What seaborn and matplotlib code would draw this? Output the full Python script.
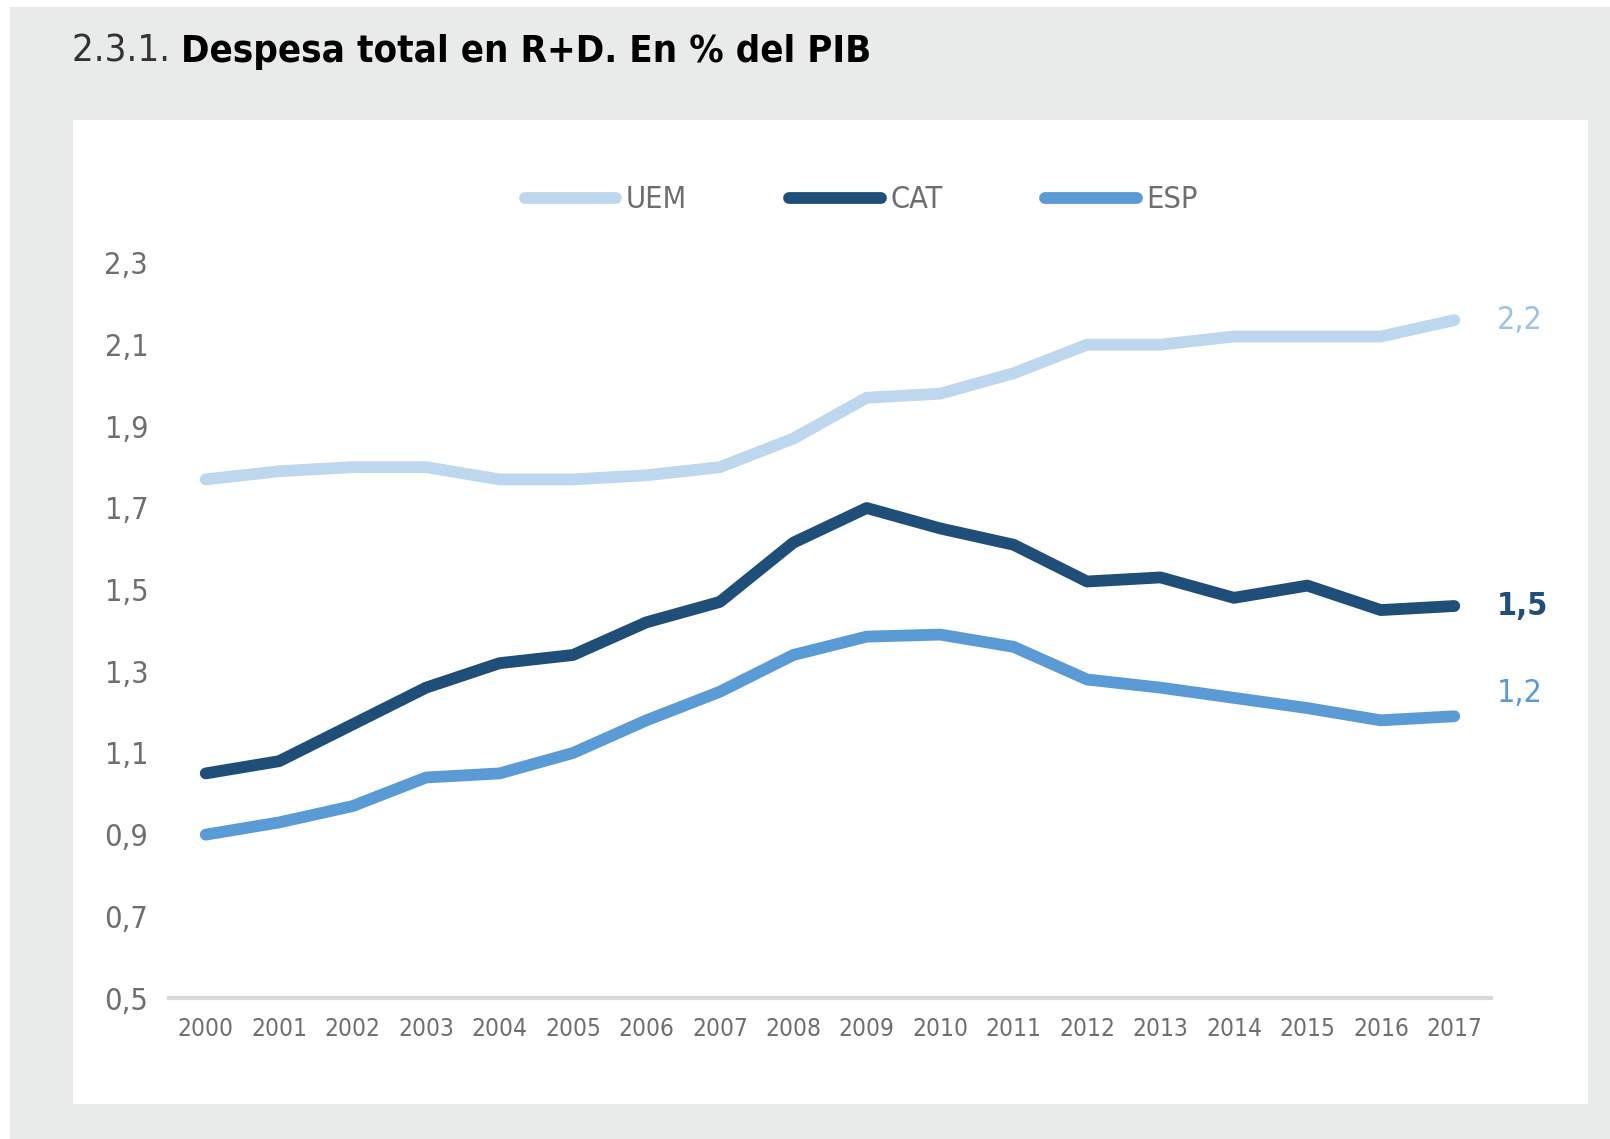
import numpy as np
import pandas as pd
import matplotlib
matplotlib.use('Agg')
import matplotlib.pyplot as plt
from matplotlib import font_manager as fm
from matplotlib.patches import Rectangle
import seaborn as sns

years = list(range(2000, 2018))
uem = [1.77, 1.79, 1.80, 1.80, 1.77, 1.77, 1.78, 1.80, 1.87, 1.97,
       1.98, 2.03, 2.10, 2.10, 2.12, 2.12, 2.12, 2.16]
cat = [1.05, 1.08, 1.17, 1.26, 1.32, 1.34, 1.42, 1.47, 1.615, 1.70,
       1.65, 1.61, 1.52, 1.53, 1.48, 1.51, 1.45, 1.46]
esp = [0.90, 0.93, 0.97, 1.04, 1.05, 1.10, 1.18, 1.25, 1.34, 1.385,
       1.39, 1.36, 1.28, 1.26, 1.235, 1.21, 1.18, 1.19]
series = ['UEM', 'CAT', 'ESP']
colors = ['#BDD7EE', '#1F4E79', '#5B9BD5']
end_labels = ['2,2', '1,5', '1,2']
yticks = [0.5, 0.7, 0.9, 1.1, 1.3, 1.5, 1.7, 1.9, 2.1, 2.3]
ytick_labels = ['0,5', '0,7', '0,9', '1,1', '1,3', '1,5', '1,7', '1,9', '2,1', '2,3']

df = pd.DataFrame({'any': years * 3,
                   'valor': uem + cat + esp,
                   'serie': np.repeat(series, len(years))})

sns.set_style('white')

# the original uses a condensed DIN-like face; use a narrow one if there is one
family, stretch, k = 'DejaVu Sans', 'normal', 1.0
for fam, st, kk, key in [('Liberation Sans Narrow', 'normal', 1.2, 'Narrow'),
                         ('DejaVu Sans', 'condensed', 1.1, 'Condensed')]:
    try:
        p = fm.findfont(fm.FontProperties(family=fam, stretch=st), fallback_to_default=False)
    except Exception:
        continue
    if key in p:
        family, stretch, k = fam, st, kk
        break
plt.rcParams['font.family'] = [family, 'DejaVu Sans']
plt.rcParams['font.stretch'] = stretch

fig = plt.figure(figsize=(16.1, 11.39), dpi=100)
fig.patch.set_facecolor('white')
W, H = 1610, 1139
# grey card + white panel
fig.patches.append(Rectangle((10 / W, 0), 1, 1 - 7 / H, transform=fig.transFigure,
                             facecolor='#E9EBEA', edgecolor='none', zorder=-3))
fig.patches.append(Rectangle((73 / W, 1 - 1104 / H), (1588 - 73) / W, (1104 - 120) / H,
                             transform=fig.transFigure, facecolor='white',
                             edgecolor='none', zorder=-2))

ax = fig.add_axes([169 / W, 1 - 998 / H, (1491 - 169) / W, (998 - 263) / H])
ax.set_facecolor('none')

sns.lineplot(data=df, x='any', y='valor', hue='serie', hue_order=series,
             palette=colors, linewidth=8.5, legend=False, ax=ax,
             solid_capstyle='round', solid_joinstyle='round')

ax.set_xlim(1999.5, 2017.5)
ax.set_ylim(0.5, 2.3)
ax.set_xticks(years)
ax.set_xticklabels([str(y) for y in years], fontsize=16 * k, color='#6E6E6E')
ax.set_yticks(yticks)
ax.set_yticklabels(ytick_labels, fontsize=20 * k, color='#6E6E6E')
ax.tick_params(axis='x', length=0, pad=14)
ax.tick_params(axis='y', length=0, pad=15)
ax.set_xlabel('')
ax.set_ylabel('')
for s in ['top', 'right', 'left']:
    ax.spines[s].set_visible(False)
ax.spines['bottom'].set_color('#D9D9D9')
ax.spines['bottom'].set_linewidth(3)

ax.text(2017.58, uem[-1], end_labels[0], color='#9DC3E6', fontsize=21 * k,
        va='center', ha='left', clip_on=False)
ax.text(2017.58, cat[-1], end_labels[1], color=colors[1], fontsize=21 * k,
        fontweight='bold', va='center', ha='left', clip_on=False)
ax.text(2017.58, 1.245, end_labels[2], color=colors[2], fontsize=21 * k,
        va='center', ha='left', clip_on=False)

leg = ax.legend(handles=ax.lines[:3], labels=series, ncol=3, frameon=False,
                loc='center', bbox_to_anchor=(861 / W, 1 - 200 / H),
                bbox_transform=fig.transFigure, fontsize=20 * k,
                handlelength=3.3 / k, handletextpad=0.3, columnspacing=3.7 / k)
for t in leg.get_texts():
    t.set_color('#6E6E6E')

# title in two parts
t1 = fig.text(72 / W, 1 - 62 / H, '2.3.1. ', fontsize=25 * k, color='#333333',
              va='baseline', ha='left')
fig.canvas.draw()
bb = t1.get_window_extent()
fig.text(bb.x1 / W, 1 - 62 / H, 'Despesa total en R+D. En % del PIB', fontsize=25 * k,
         fontweight='bold', color='black', va='baseline', ha='left')

fig.savefig('out.png', dpi=100)
